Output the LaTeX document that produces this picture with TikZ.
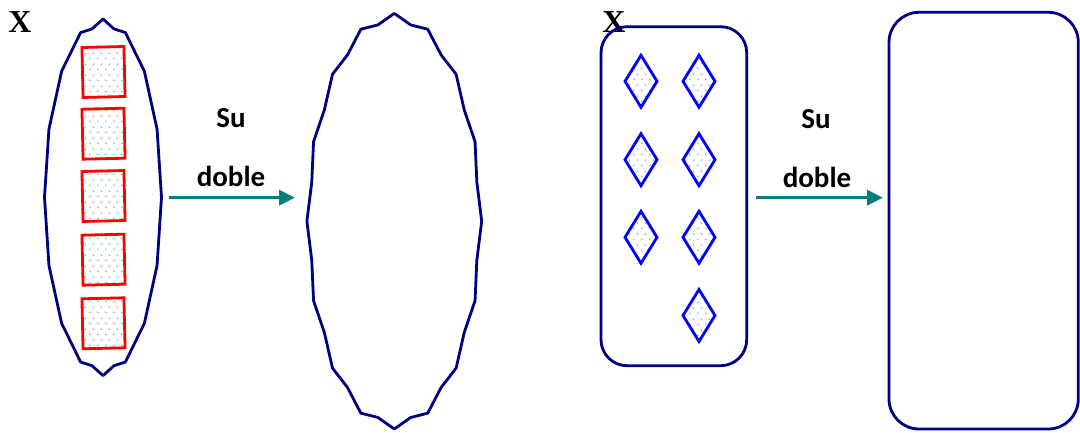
\documentclass[tikz,border=0pt]{standalone}
\usepackage{fontspec}
\newfontfamily\lblfont{Carlito}
\newfontfamily\xfont{Liberation Serif}
\usetikzlibrary{arrows.meta,patterns.meta}
\definecolor{navyc}{RGB}{0,0,128}
\definecolor{tealc}{RGB}{0,128,128}
\definecolor{dotc}{RGB}{140,190,245}
\tikzdeclarepattern{name=bdots, type=uncolored,
  bounding box={(0pt,0pt) and (8pt,10.6pt)},
  tile size={(8pt,10.6pt)},
  code={\fill (2pt,2.65pt) circle (1.1pt); \fill (6pt,7.95pt) circle (1.1pt);}}
\tikzset{
  outline/.style={draw=navyc, line width=2.8pt, line join=round},
  redbox/.style={draw=red, line width=2.8pt, minimum width=42pt, minimum height=50pt, inner sep=0pt, rotate=1.3, pattern={bdots}, pattern color=dotc},
  dia/.style={draw=blue, line width=2.8pt, line join=miter, pattern={bdots}, pattern color=dotc},
  lbl/.style={font=\lblfont\bfseries\fontsize{29}{31}\selectfont, inner sep=0pt, anchor=base},
  xlbl/.style={font=\xfont\bfseries\fontsize{32}{34}\selectfont, inner sep=0pt, anchor=base},
  arr/.style={draw=tealc, line width=3.4pt, -{Triangle[length=16pt,width=15pt]}}
}
\begin{document}
\begin{tikzpicture}[x=1pt,y=-1pt]
\useasboundingbox (0,0) rectangle (1080,433);
% left wavy shape
\draw[outline] (103,19) \foreach \t/\r in {11.25/0.963,22.5/1,45/1,67.5/1,90/1,112.5/1,135/1,157.5/1,168.75/0.963,180/1,191.25/0.963,202.5/1,225/1,247.5/1,270/1,292.5/1,315/1,337.5/1,348.75/0.963}{ -- ({103+58.5*\r*sin(\t)},{197.3-178.3*\r*cos(\t)}) } -- cycle;
\foreach \n/\y in {1/72,2/133.7,3/196,4/259.7,5/323.3}{
  \node[redbox] (sq\n) at (103.5,\y) {};
}
% right wavy shape
\draw[outline] (394.3,13.4) \foreach \k in {1,...,31}{ -- ({394.3+87.4*(1-0.037*mod(\k,2))*sin(\k*11.25)},{221.2-207.8*(1-0.037*mod(\k,2))*cos(\k*11.25)}) } -- cycle;
% labels
\node[xlbl] (x1) at (20,32.3) {X};
\node[xlbl] (x2) at (614,32.3) {X};
\node[lbl] (su1) at (231,127.5) {Su};
\node[lbl] (do1) at (231,187) {doble};
\node[lbl] (su2) at (816,128.5) {Su};
\node[lbl] (do2) at (817,188) {doble};
\coordinate (a1s) at (169,197.7);
\coordinate (a1e) at (295,197.7);
\coordinate (a2s) at (756,197.7);
\coordinate (a2e) at (883,197.7);
\draw[arr] (a1s) -- (a1e);
\draw[arr] (a2s) -- (a2e);
% rounded rectangles
\draw[outline, rounded corners=26pt] (601,26.7) rectangle (746.7,365.7);
\draw[outline, rounded corners=30pt] (889,12.3) rectangle (1078.3,429);
% diamonds
\foreach \n/\cx/\cy in {1/641/81.3,2/699/81.3,3/641/159.7,4/699/159.7,5/641/237.3,6/699/237.3,7/699/315.5}{
  \draw[dia] (\cx,\cy-26) -- (\cx+16,\cy) -- (\cx,\cy+26) -- (\cx-16,\cy) -- cycle;
}
\end{tikzpicture}
\end{document}
